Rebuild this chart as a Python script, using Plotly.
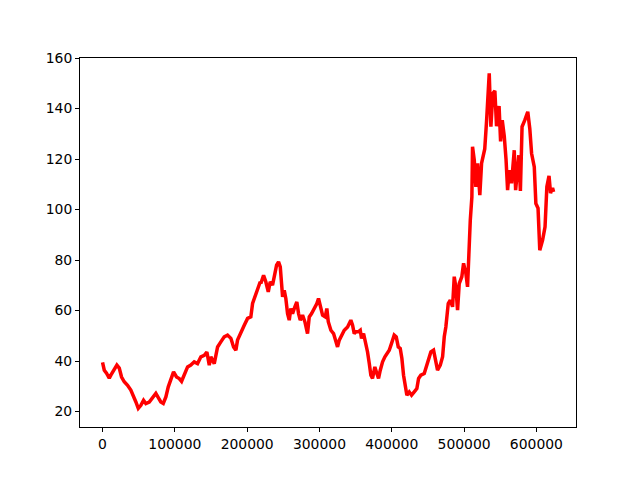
import plotly.graph_objects as go

# Index (sample number) and price values
index_values = [
    0, 2400, 5500, 9300, 11500, 15200, 19800, 23100, 26300, 30000, 34600, 39100, 42500,
    46100, 49400, 53000, 56700, 59900, 64600, 69200, 73700, 77500, 80600, 84000, 87600,
    90900, 94500, 98200, 102300, 106100, 109300,
    113000, 117600, 122100, 126800, 131400, 136000, 140700, 144300, 147600, 149800, 154500,
    159100, 163600, 168300, 172900, 177500, 181200, 184400, 186700, 191300, 196000, 200600,
    205100, 207500, 212000, 214400, 218100,
    218900, 222700, 225800, 229200, 231900, 235100, 237500, 240700, 243400, 245800, 247600,
    249000, 251300, 253500, 255900, 258200, 260400, 262800, 266000, 268700, 271100, 273400,
    276600, 279800, 283500, 285900, 289100, 292800, 296400, 298700, 301100, 304300, 308000,
    310200, 312200, 315800, 319500, 322700, 325000, 327400,
    329600, 334300, 338900, 343400, 345800, 348100, 350300, 353700, 356400, 358200, 361000,
    364200, 366500, 368900, 371100, 373400, 376600, 379400, 381700, 384100, 387300, 390500,
    394200, 396500, 399700, 403400, 406200, 409000, 411700, 414000, 416300, 418700, 420900,
    424200, 427400, 431100, 434700, 437100, 440200,
    444900, 449500, 454100, 457800, 461000, 463300, 467100, 470300, 472600, 474800, 478100,
    480900, 484100, 486400, 488600, 491000, 493300, 496900, 499300, 502500, 504800, 506200,
    508600, 510800, 511700, 514100, 516300, 518700, 521800, 524200, 528600, 531100, 533200,
    534800, 537100, 539800, 542600, 544900, 548400, 550500, 552800, 555600, 558000, 560200,
    562500, 565700, 567500, 569400, 571300, 573600, 575700, 577900, 580200, 584000, 586000,
    588100, 590900, 593400, 597100, 599300, 602300, 604700, 608600, 612000, 614500, 617500,
    619600, 622400, 623800,
]
price_values = [
    39.5, 36.4, 35.2, 33.2, 34.4, 36.4, 38.4, 37.2, 33.7, 31.8, 30.4, 28.5, 26.5,
    23.8, 21.3, 22.5, 24.5, 23.2, 23.8, 25.3, 27.2, 25.3, 23.8, 23.2, 25.8,
    29.8, 32.4, 35.7, 33.7, 33.1, 32.0,
    34.4, 37.7, 38.4, 39.7, 39.0, 41.7, 42.3, 43.6, 38.4, 41.7, 39.0,
    45.6, 47.6, 49.6, 50.3, 49.0, 45.6, 44.3, 48.3, 51.6, 54.2, 56.9,
    57.5, 62.8, 66.1, 68.0, 71.4,
    70.7, 74.0, 71.4, 67.4, 71.4, 70.1, 73.4, 78.0, 79.3, 77.3, 70.7,
    65.4, 68.0, 64.8, 58.8, 56.2, 60.8, 58.8, 61.5, 63.4, 58.8, 56.2,
    58.2, 55.6, 50.9, 57.5, 58.8, 60.8, 62.8, 64.8, 61.5, 58.2, 57.5,
    60.8, 55.6, 52.2, 50.9, 48.3, 45.6, 48.3,
    49.6, 52.2, 53.5, 56.2, 54.2, 50.9, 51.6, 51.6, 52.2, 49.0, 50.9,
    47.0, 43.6, 39.0, 34.4, 33.1, 37.7, 35.1, 33.1, 36.4, 39.7, 41.7,
    43.0, 44.3, 47.0, 50.3, 49.6, 45.6, 45.0, 41.0, 34.4, 29.1, 26.5,
    27.8, 26.5, 27.8, 29.1, 33.1, 34.4,
    35.1, 39.0, 43.6, 44.3, 40.3, 36.4, 38.4, 41.7, 49.6, 53.5, 62.8,
    64.1, 61.5, 73.4, 69.4, 60.2, 70.7, 73.4, 78.7, 74.7, 69.4, 82.6,
    95.8, 105.0, 124.9, 119.6, 109.0, 118.3, 105.7, 118.3, 124.0, 135.0, 144.0,
    153.9, 132.8, 146.0, 147.0, 133.0, 141.0, 127.0, 135.4, 129.0, 120.0, 107.7,
    115.6, 110.4, 116.9, 123.5, 107.7, 115.6, 121.5, 107.4, 132.8, 135.4, 136.7,
    138.7, 132.0, 122.2, 116.9, 102.4, 100.5, 83.9, 87.9, 93.2, 109.0, 113.3,
    106.5, 108.5, 107.0,
]

x_ticks = [0, 100000, 200000, 300000, 400000, 500000, 600000]
y_ticks = [20, 40, 60, 80, 100, 120, 140, 160]

fig = go.Figure()
fig.add_trace(go.Scatter(
    x=index_values, y=price_values, mode="lines",
    line=dict(color="#ff0000", width=3.5),
    showlegend=False,
))

axis_common = dict(
    showline=True, linecolor="black", linewidth=1, mirror=True,
    ticks="outside", ticklen=4, tickwidth=1, tickcolor="black",
    showgrid=False, zeroline=False,
    tickfont=dict(family="DejaVu Sans", size=13.9, color="black"),
)

fig.update_layout(
    width=640, height=480,
    margin=dict(l=72, r=72, t=50, b=61),
    paper_bgcolor="white", plot_bgcolor="white",
    xaxis=dict(range=[-31180, 654800], tickvals=x_ticks,
               ticktext=[str(v) for v in x_ticks], **axis_common),
    yaxis=dict(range=[13.9, 160], tickvals=y_ticks,
               ticktext=[str(v) for v in y_ticks], **axis_common),
)

fig.write_html("out.html")
